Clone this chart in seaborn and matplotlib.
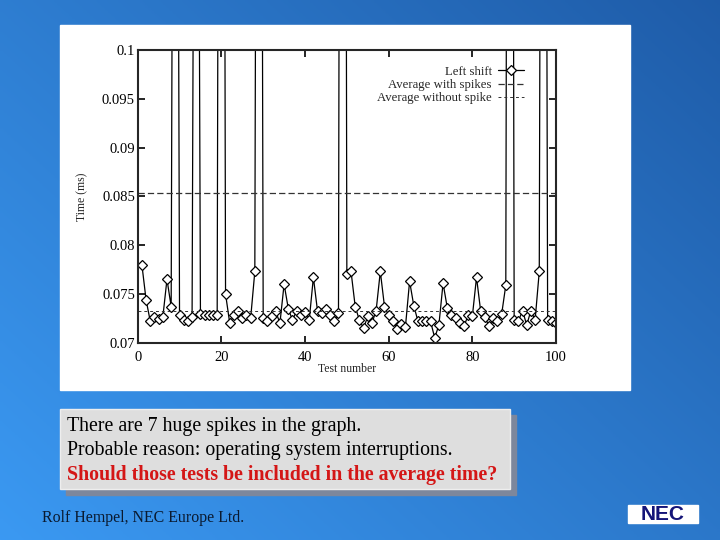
import numpy as np
import pandas as pd
import matplotlib
matplotlib.use("Agg")
import matplotlib.pyplot as plt
import seaborn as sns
from matplotlib.patches import Rectangle

# Left shift timings per test (ms); the 7 spikes go far above the plot window
test_number = list(range(1, 101))
left_shift = [
    0.0780, 0.0744, 0.0722, 0.0726, 0.0724, 0.0726, 0.0765, 0.0737, 0.2100, 0.0728,
    0.0723, 0.0722, 0.0726, 0.1900, 0.0729, 0.0728, 0.0728, 0.0728, 0.0728, 0.2600,
    0.0750, 0.0720, 0.0728, 0.0732, 0.0725, 0.0728, 0.0725, 0.0773, 0.2400, 0.0725,
    0.0722, 0.0727, 0.0732, 0.0720, 0.0760, 0.0735, 0.0723, 0.0733, 0.0728, 0.0731,
    0.0723, 0.0767, 0.0732, 0.0730, 0.0735, 0.0728, 0.0722, 0.0730, 0.3000, 0.0770,
    0.0773, 0.0737, 0.0723, 0.0715, 0.0727, 0.0720, 0.0733, 0.0773, 0.0737, 0.0728,
    0.0722, 0.0714, 0.0719, 0.0716, 0.0763, 0.0738, 0.0722, 0.0722, 0.0722, 0.0722,
    0.0705, 0.0718, 0.0761, 0.0736, 0.0728, 0.0725, 0.0720, 0.0717, 0.0728, 0.0727,
    0.0767, 0.0732, 0.0726, 0.0717, 0.0725, 0.0722, 0.0729, 0.0759, 0.2800, 0.0723,
    0.0722, 0.0733, 0.0718, 0.0733, 0.0723, 0.0773, 0.2400, 0.0723, 0.0722, 0.0720,
]
avg_with_spikes = 0.0853
avg_without_spike = 0.0732

y_ticks = [0.07, 0.075, 0.08, 0.085, 0.09, 0.095, 0.1]
y_tick_labels = ["0.07", "0.075", "0.08", "0.085", "0.09", "0.095", "0.1"]
x_ticks = [0, 20, 40, 60, 80, 100]

note_lines = [
    "There are 7 huge spikes in the graph.",
    "Probable reason: operating system interruptions.",
]
note_question = "Should those tests be included in the average time?"
footer = "Rolf Hempel, NEC Europe Ltd."

df = pd.DataFrame({"Test number": test_number, "Time (ms)": left_shift})

sns.set_style("ticks")
plt.rcParams["font.family"] = ["Liberation Serif", "DejaVu Serif"]

fig = plt.figure(figsize=(7.2, 5.4), dpi=100)

# slide background: blue diagonal gradient
bg = fig.add_axes([0, 0, 1, 1])
gx, gy = np.meshgrid(np.linspace(0, 1, 200), np.linspace(0, 1, 200))
t = np.clip(0.55 * gx + 0.45 * (1 - gy), 0, 1)  # 0 bottom-left, 1 top-right
light = np.array([0.23, 0.60, 0.95])
dark = np.array([0.12, 0.36, 0.66])
img = light[None, None, :] * (1 - t[..., None]) + dark[None, None, :] * t[..., None]
bg.imshow(img, extent=[0, 1, 0, 1], origin="upper", aspect="auto")
bg.set_xlim(0, 1)
bg.set_ylim(0, 1)
bg.axis("off")

# white panel holding the chart
fig.patches.append(Rectangle((60 / 720, 1 - 390 / 540), 570 / 720, 365 / 540,
                             transform=fig.transFigure, color="white", zorder=1))

ax = fig.add_axes([137.7 / 720, 1 - 342.7 / 540, 418.3 / 720, 292.7 / 540])
ax.set_zorder(2)
sns.lineplot(data=df, x="Test number", y="Time (ms)", ax=ax, color="black",
             linewidth=0.9, marker="D", markersize=5, markerfacecolor="white",
             markeredgecolor="black", markeredgewidth=0.9, label="Left shift")
ax.axhline(avg_with_spikes, color="#333333", linewidth=0.9, dashes=(5, 2.5),
           label="Average with spikes")
ax.axhline(avg_without_spike, color="#333333", linewidth=0.7, dashes=(3, 3),
           label="Average without spike")

ax.set_xlim(0, 100)
ax.set_ylim(0.07, 0.1)
ax.set_xticks(x_ticks)
ax.set_yticks(y_ticks)
ax.set_yticklabels(y_tick_labels)
ax.tick_params(axis="y", direction="in", length=5, width=1.2, right=True,
               labelsize=10.5, pad=2, colors="black")
ax.tick_params(axis="x", direction="in", length=5, width=1.2, top=True,
               labelsize=10.5, pad=6, colors="black")
for s in ax.spines.values():
    s.set_linewidth(1.5)
    s.set_visible(True)
ax.set_xlabel("Test number", fontsize=8.5, labelpad=-1)
ax.set_ylabel("Time (ms)", fontsize=8.5, labelpad=10)
ax.legend(loc="upper right", bbox_to_anchor=(0.95, 0.985), frameon=False,
          markerfirst=False, fontsize=9.2, handlelength=2.0, labelspacing=0.1,
          handletextpad=0.5)

# note box with shadow
fig.patches.append(Rectangle((66 / 720, 1 - 495 / 540), 450 / 720, 80 / 540,
                             transform=fig.transFigure, color="#7d879c", zorder=1))
fig.patches.append(Rectangle((60 / 720, 1 - 489 / 540), 450 / 720, 80 / 540,
                             transform=fig.transFigure, facecolor="#dedede",
                             edgecolor="#eeeeee", linewidth=1, zorder=1))
for i, line in enumerate(note_lines):
    fig.text(67 / 720, 1 - (427 + 24 * i) / 540, line, fontsize=14.3,
             color="black", va="center", ha="left")
fig.text(67 / 720, 1 - 475 / 540, note_question, fontsize=14.3, color="#d41616",
         fontweight="bold", va="center", ha="left")

fig.text(42 / 720, 1 - 518 / 540, footer, fontsize=11.4, color="#0a1a30",
         va="center", ha="left")

# NEC logo
fig.patches.append(Rectangle((628 / 720, 1 - 523 / 540), 70 / 720, 18 / 540,
                             transform=fig.transFigure, color="white", zorder=1))
fig.text(663 / 720, 1 - 514 / 540, "NEC", fontsize=15, color="#141478",
         fontweight="bold", family=["Liberation Sans", "DejaVu Sans"],
         va="center", ha="center")

fig.savefig("out.png", dpi=100)
